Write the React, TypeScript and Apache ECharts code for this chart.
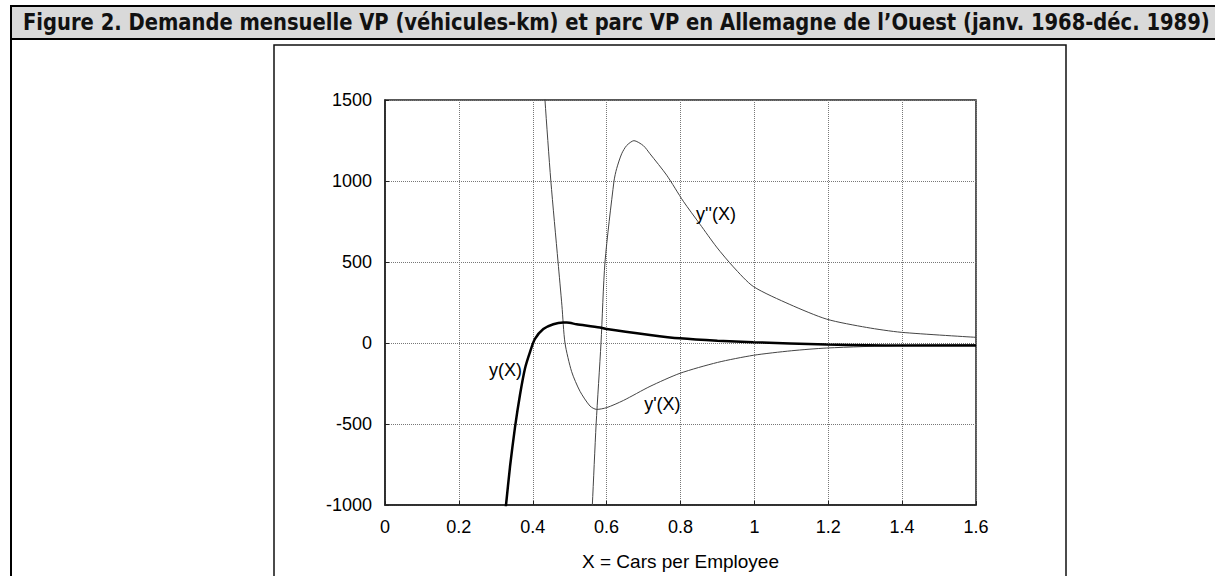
import React, { useEffect, useRef } from "react";
import * as echarts from "echarts";

const TITLE = "Figure 2. Demande mensuelle VP (véhicules-km) et parc VP en Allemagne de l’Ouest (janv. 1968-déc. 1989)";
const X_NAME = "X = Cars per Employee";

// y(X) — thick curve
const Y_DATA: [number, number][] = [
  [0.32, -1150], [0.3276, -1000], [0.3384, -764], [0.3519, -521], [0.3655, -319],
  [0.379, -157], [0.3925, -56], [0.406, 25], [0.4286, 86], [0.4557, 116],
  [0.4827, 126], [0.4918, 126], [0.5188, 116], [0.582, 96], [0.6001, 86],
  [0.7174, 50], [0.7986, 29], [0.9, 14], [0.997, 5], [1.196, -9], [1.3975, -15], [1.6, -15],
];

// y'(X)
const Y1_DATA: [number, number][] = [
  [0.425, 1800], [0.4331, 1500], [0.449, 1000], [0.4685, 500], [0.479, 230],
  [0.4873, 0], [0.5053, -177], [0.5279, -298], [0.555, -389], [0.573, -410],
  [0.6001, -399], [0.6452, -355], [0.7174, -268], [0.7986, -187], [0.9, -120],
  [0.997, -76], [1.1, -48], [1.196, -31], [1.3975, -15], [1.6, -10],
];

// y''(X)
const Y2_DATA: [number, number][] = [
  [0.554, -1310], [0.5613, -1000], [0.5716, -500], [0.5848, 0], [0.5956, 500],
  [0.62, 1000], [0.6272, 1077], [0.6407, 1168], [0.6543, 1219], [0.674, 1249],
  [0.6995, 1218], [0.7174, 1168], [0.7626, 1036], [0.8076, 875], [0.8527, 733],
  [0.8978, 592], [0.943, 470], [0.997, 349], [1.096, 238], [1.196, 147],
  [1.304, 96], [1.3975, 66], [1.6, 35],
];

// curve labels (data coordinates)
const LABEL_Y: [number, number] = [0.326, -167];
const LABEL_Y1: [number, number] = [0.751, -379];
const LABEL_Y2: [number, number] = [0.896, 794];

const FONT = "'Liberation Sans', Arial, sans-serif";

function labelPoint(coord: [number, number], text: string) {
  return {
    symbol: "rect",
    symbolSize: 1,
    itemStyle: { color: "transparent" },
    silent: true,
    data: [
      {
        coord,
        label: {
          show: true,
          position: "inside",
          formatter: text,
          color: "#000",
          fontSize: 18,
          fontFamily: FONT,
        },
      },
    ],
  };
}

export default function App() {
  const ref = useRef<HTMLDivElement>(null);
  useEffect(() => {
    if (!ref.current) return;
    document.body.style.margin = "0";
    const chart = echarts.init(ref.current, null, { renderer: "svg" });
    const option: any = {
      animation: false,
      backgroundColor: "#fff",
      grid: {
        left: 385,
        right: 1215 - 976,
        top: 100,
        bottom: 576 - 512,
        show: true,
        borderColor: "#222",
        borderWidth: 1.5,
        containLabel: false,
      },
      graphic: [
        {
          type: "rect",
          shape: { x: 11, y: 6, width: 1220, height: 33 },
          style: { fill: "#d9d9d9", stroke: "#000", lineWidth: 2 },
          z: 1,
        },
        {
          type: "line",
          shape: { x1: 11, y1: 6, x2: 11, y2: 576 },
          style: { stroke: "#000", lineWidth: 2 },
        },
        {
          type: "polyline",
          shape: { points: [[274, 576], [274, 45], [1066, 45], [1066, 576]] },
          style: { fill: "none", stroke: "#111", lineWidth: 1.5 },
        },
        {
          type: "text",
          x: 23,
          y: 22,
          scaleX: 0.945,
          scaleY: 1,
          style: {
            text: TITLE,
            fontFamily: "'DejaVu Sans Condensed', 'Liberation Sans', sans-serif",
            fontWeight: "bold",
            fontSize: 23,
            fill: "#111",
            verticalAlign: "middle",
          },
          z: 2,
        },
      ],
      xAxis: {
        type: "value",
        min: 0,
        max: 1.6,
        interval: 0.2,
        name: X_NAME,
        nameLocation: "middle",
        nameGap: 47,
        nameTextStyle: { fontSize: 19, color: "#000", fontFamily: FONT },
        axisLine: { show: true, onZero: false, lineStyle: { color: "#222", width: 1.5 } },
        axisTick: { show: true, inside: true, length: 4, lineStyle: { color: "#222" } },
        axisLabel: { fontSize: 18, color: "#000", fontFamily: FONT, margin: 13, formatter: (v: number) => String(+v.toFixed(2)) },
        splitLine: { show: true, lineStyle: { color: "#777", width: 1, type: [1, 1] } },
      },
      yAxis: {
        type: "value",
        min: -1000,
        max: 1500,
        interval: 500,
        axisLine: { show: true, onZero: false, lineStyle: { color: "#222", width: 1.5 } },
        axisTick: { show: true, inside: true, length: 4, lineStyle: { color: "#222" } },
        axisLabel: { fontSize: 18, color: "#000", fontFamily: FONT, margin: 13, formatter: (v: number) => String(v) },
        splitLine: { show: true, lineStyle: { color: "#777", width: 1, type: [1, 1] } },
      },
      series: [
        {
          name: "y''(X)",
          type: "line",
          data: Y2_DATA,
          showSymbol: false,
          smooth: 0.25,
          clip: true,
          lineStyle: { color: "#444", width: 1 },
          markPoint: labelPoint(LABEL_Y2, "y''(X)"),
        },
        {
          name: "y'(X)",
          type: "line",
          data: Y1_DATA,
          showSymbol: false,
          smooth: 0.25,
          clip: true,
          lineStyle: { color: "#444", width: 1 },
          markPoint: labelPoint(LABEL_Y1, "y'(X)"),
        },
        {
          name: "y(X)",
          type: "line",
          data: Y_DATA,
          showSymbol: false,
          smooth: 0.25,
          clip: true,
          lineStyle: { color: "#000", width: 2.5 },
          markPoint: labelPoint(LABEL_Y, "y(X)"),
        },
      ],
    };
    chart.setOption(option);
    return () => chart.dispose();
  }, []);
  return <div ref={ref} style={{ width: 1215, height: 576 }} />;
}
